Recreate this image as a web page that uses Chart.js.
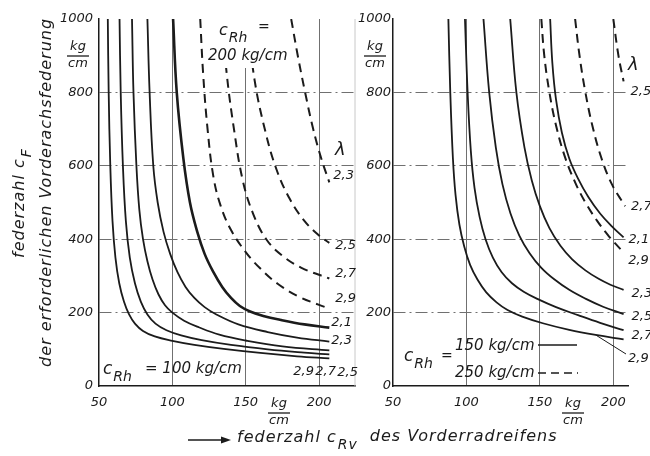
<!DOCTYPE html>
<html lang="de">
<head>
    <meta charset="UTF-8">
    <title>Federzahl Vorderachsfederung</title>
    <script src="https://cdn.jsdelivr.net/npm/chart.js"></script>
    <style>
        body { margin: 0; background: #fff; }
        #wrap { position: relative; width: 650px; height: 456px; }
        #wrap canvas { position: absolute; left: 0; top: 0; }
    </style>
</head>
<body>
    <div id="wrap">
        <canvas id="leftChart" width="650" height="456"></canvas>
        <canvas id="rightChart" width="650" height="456"></canvas>
    </div>
    <script>
        // axis ticks
        const xTicks = [50, 100, 150, 200];
        const yTicks = [0, 200, 400, 600, 800, 1000];

        // left panel, c_Rh = 100 kg/cm (solid) - points [c_Rv, c_F]
        const left100_29 = [[56, 1000], [56.6, 800], [57.7, 600], [59.2, 450], [61.2, 350], [63.8, 280], [67, 230], [70.5, 195], [74.5, 170], [80, 150], [88, 135], [100, 123], [115, 112], [135, 101], [160, 90], [185, 81], [207, 75]];
        const left100_27 = [[64, 1000], [64.8, 800], [66.3, 600], [68.3, 450], [71, 350], [74.5, 280], [78.5, 230], [83, 195], [88.5, 170], [96, 152], [106, 138], [120, 125], [140, 112], [165, 100], [190, 91], [207, 86]];
        const left100_25 = [[72.5, 1000], [73.5, 800], [75.5, 600], [77.5, 480], [80, 400], [83, 340], [86.5, 290], [90.5, 250], [95, 220], [100, 200], [108, 178], [118, 160], [132, 140], [150, 124], [175, 108], [207, 97]];
        const left100_23 = [[83, 1000], [84.5, 800], [87, 600], [90, 500], [94, 420], [98.5, 360], [103.5, 310], [109, 270], [115, 240], [122, 215], [130, 195], [145, 168], [165, 147], [185, 132], [207, 121]];
        const left100_21 = [[100.5, 1000], [103, 800], [107.5, 620], [112, 500], [117, 420], [122, 360], [128, 310], [134, 270], [140, 240], [146, 218], [153, 203], [162, 191], [174, 180], [190, 168], [207, 159]];

        // left panel, c_Rh = 200 kg/cm (dashed)
        const left200_29 = [[119, 1000], [121, 850], [124, 700], [128, 570], [133, 490], [140, 425], [150, 365], [160, 320], [172, 278], [186, 244], [200, 221], [207, 211]];
        const left200_27 = [[134, 1000], [137, 853], [142, 700], [148, 560], [155, 470], [164, 400], [175, 355], [188, 322], [207, 293]];
        const left200_25 = [[151, 1000], [156, 835], [163, 700], [171, 590], [180, 510], [190, 450], [200, 410], [207, 390]];
        const left200_23 = [[181, 1000], [185.5, 900], [190.5, 800], [196, 700], [201.5, 620], [207, 555]];

        // right panel, c_Rh = 150 kg/cm (solid)
        const right150_29 = [[87.7, 1000], [89, 800], [90.8, 620], [92.6, 520], [95.2, 440], [98.5, 380], [102.5, 330], [107.5, 290], [113.5, 255], [120.5, 228], [128, 207], [138, 189], [152, 171], [170, 153], [188, 139], [207, 127]];
        const right150_27 = [[99, 1000], [100.8, 800], [103, 640], [105.5, 540], [109, 460], [113, 400], [118, 350], [124, 310], [131, 280], [139, 257], [149, 236], [161, 215], [176, 193], [191, 172], [207, 152]];
        const right150_25 = [[111.6, 1000], [115.5, 800], [120, 650], [124.5, 550], [130, 470], [136, 410], [143, 362], [151, 322], [160, 290], [170, 262], [181, 238], [193, 216], [207, 196]];
        const right150_23 = [[129.8, 1000], [134, 800], [139.5, 650], [144.5, 560], [150, 490], [156.5, 430], [164, 382], [172, 345], [181, 315], [190, 292], [198, 276], [207, 262]];
        const right150_21 = [[157, 1000], [158.5, 880], [161, 780], [165, 690], [170, 620], [176, 565], [183, 515], [191, 470], [199, 435], [207, 405]];

        // right panel, c_Rh = 250 kg/cm (dashed)
        const right250_29 = [[151, 1000], [153, 900], [156.5, 800], [161, 710], [167, 625], [174, 555], [181, 500], [189, 450], [197, 408], [206, 368]];
        const right250_27 = [[174, 1000], [177, 900], [181, 800], [186, 705], [192, 620], [199, 550], [208, 490]];
        const right250_25 = [[200, 1000], [203.5, 900], [207, 830]];

        const ink = '#1b1b1b';
        const gridColor = '#707070';
        const none = 'rgba(0,0,0,0)';
        const fontFam = '"DejaVu Sans"';

        function curve(pts, dashed, width, lab) {
            return {
                data: pts.map(p => ({ x: p[0], y: p[1] })),
                showLine: true,
                borderColor: ink,
                borderWidth: width,
                borderDash: dashed ? [9, 6] : [],
                pointRadius: 0,
                tension: 0.4,
                fill: false,
                lab: lab
            };
        }

        function put(c, s, x, y, size, align) {
            c.font = 'italic ' + size + 'px ' + fontFam;
            c.textAlign = align || 'left';
            c.textBaseline = 'middle';
            c.fillStyle = ink;
            c.fillText(s, x, y);
            return c.measureText(s).width;
        }

        function putSub(c, base, sub, x, y, size) {
            const w = put(c, base, x, y, size);
            const w2 = put(c, sub, x + w + 1, y + size * 0.45, Math.round(size * 0.85));
            return w + 1 + w2;
        }

        function hline(c, x1, x2, y, dash) {
            c.save();
            c.strokeStyle = ink;
            c.lineWidth = 1.3;
            c.setLineDash(dash || []);
            c.beginPath();
            c.moveTo(x1, y);
            c.lineTo(x2, y);
            c.stroke();
            c.restore();
        }

        // kg over cm
        function unitFrac(c, x, y) {
            put(c, 'kg', x, y - 9, 13, 'center');
            hline(c, x - 11, x + 11, y);
            put(c, 'cm', x, y + 8, 13, 'center');
        }

        // lambda values at the curve ends
        const curveLabels = {
            id: 'curveLabels',
            afterDatasetsDraw(chart) {
                const c = chart.ctx;
                c.save();
                chart.data.datasets.forEach((ds, i) => {
                    if (!ds.lab) return;
                    const pts = chart.getDatasetMeta(i).data;
                    const last = pts[pts.length - 1];
                    put(c, ds.lab.t, last.x + ds.lab.dx, last.y + ds.lab.dy, 13);
                });
                c.restore();
            }
        };

        const leftText = {
            id: 'leftText',
            afterDatasetsDraw(chart) {
                const c = chart.ctx;
                const a = chart.chartArea;
                c.save();
                // faint right border of the left panel
                c.strokeStyle = '#c8c8c8';
                c.lineWidth = 1;
                c.beginPath();
                c.moveTo(a.right, a.top);
                c.lineTo(a.right, a.bottom);
                c.stroke();

                // c_Rh = 200 kg/cm label on a white patch
                c.fillStyle = '#fff';
                c.fillRect(206, 12, 84, 56);
                putSub(c, 'c', 'Rh', 219, 31, 16);
                put(c, '=', 258, 27, 14);
                put(c, '200 kg/cm', 208, 56, 15);

                // c_Rh = 100 kg/cm
                putSub(c, 'c', 'Rh', 103, 370, 17);
                put(c, '= 100 kg/cm', 145, 369, 15);

                put(c, 'λ', 335, 150, 18);

                unitFrac(c, 78, 56);
                unitFrac(c, 279, 413);

                // rotated y titles
                c.letterSpacing = '1px';
                c.save();
                c.translate(20, 258);
                c.rotate(-Math.PI / 2);
                putSub(c, 'federzahl c', 'F', 0, 0, 16);
                c.restore();
                c.save();
                c.translate(47, 367);
                c.rotate(-Math.PI / 2);
                put(c, 'der erforderlichen Vorderachsfederung', 0, 0, 16);
                c.restore();

                // x title with arrow
                c.save();
                c.strokeStyle = ink;
                c.lineWidth = 1.4;
                c.beginPath();
                c.moveTo(188, 440);
                c.lineTo(224, 440);
                c.stroke();
                c.fillStyle = ink;
                c.beginPath();
                c.moveTo(231, 440);
                c.lineTo(221, 436.5);
                c.lineTo(221, 443.5);
                c.closePath();
                c.fill();
                c.restore();
                const w = putSub(c, 'federzahl c', 'Rv', 237, 438, 16);
                put(c, 'des Vorderradreifens', 237 + w + 12, 437, 16);
                c.letterSpacing = '0px';
                c.restore();
            }
        };

        const rightText = {
            id: 'rightText',
            afterDatasetsDraw(chart) {
                const c = chart.ctx;
                c.save();
                put(c, 'λ', 628, 65, 18);
                unitFrac(c, 375, 56);
                unitFrac(c, 573, 413);

                // legend
                putSub(c, 'c', 'Rh', 404, 357, 17);
                put(c, '=', 441, 356, 14);
                put(c, '150 kg/cm', 455, 346, 15);
                hline(c, 538, 577, 345);
                put(c, '250 kg/cm', 455, 373, 15);
                hline(c, 538, 578, 373, [8, 5]);

                // leader to the 2,9 label
                const p = chart.getDatasetMeta(0).data[14];
                c.strokeStyle = ink;
                c.lineWidth = 1;
                c.beginPath();
                c.moveTo(p.x, p.y);
                c.lineTo(626, 354);
                c.stroke();
                put(c, '2,9', 628, 359, 13);
                c.restore();
            }
        };

        function scalesFor(xMax, yWidth, yPad) {
            return {
                x: {
                    type: 'linear',
                    min: 50,
                    max: xMax,
                    afterBuildTicks: s => { s.ticks = xTicks.map(v => ({ value: v })); },
                    afterFit: s => { s.height = 70; },
                    ticks: {
                        color: ink,
                        padding: 9,
                        maxRotation: 0,
                        callback: v => String(v),
                        font: { family: 'DejaVu Sans', size: 13, style: 'italic' }
                    },
                    grid: {
                        drawTicks: false,
                        lineWidth: 1,
                        color: ctx => (ctx.tick && ctx.tick.value > 50) ? gridColor : none
                    },
                    border: { color: ink, width: 1.5 }
                },
                y: {
                    type: 'linear',
                    min: 0,
                    max: 1000,
                    afterBuildTicks: s => { s.ticks = yTicks.map(v => ({ value: v })); },
                    afterFit: s => { s.width = yWidth; },
                    ticks: {
                        color: ink,
                        padding: yPad,
                        callback: v => String(v),
                        font: { family: 'DejaVu Sans', size: 13, style: 'italic' }
                    },
                    grid: {
                        drawTicks: false,
                        lineWidth: 1,
                        color: ctx => (ctx.tick && ctx.tick.value > 0 && ctx.tick.value < 1000) ? gridColor : none
                    },
                    border: { color: ink, width: 1.5, dash: [12, 4, 2, 4] }
                }
            };
        }

        const baseOptions = {
            responsive: false,
            animation: false,
            events: [],
            plugins: { legend: { display: false }, tooltip: { enabled: false } }
        };

        const leftChart = new Chart(document.getElementById('leftChart'), {
            type: 'scatter',
            data: {
                datasets: [
                    curve(left100_29, false, 1.8, { t: '2,9', dx: -36, dy: 13 }),
                    curve(left100_27, false, 1.8, { t: '2,7', dx: -14, dy: 17 }),
                    curve(left100_25, false, 1.8, { t: '2,5', dx: 8, dy: 22 }),
                    curve(left100_23, false, 1.8, { t: '2,3', dx: 2, dy: -1 }),
                    curve(left100_21, false, 2.6, { t: '2,1', dx: 2, dy: -5 }),
                    curve(left200_29, true, 2, { t: '2,9', dx: 6, dy: -10 }),
                    curve(left200_27, true, 2, { t: '2,7', dx: 6, dy: -5 }),
                    curve(left200_25, true, 2, { t: '2,5', dx: 6, dy: 3 }),
                    curve(left200_23, true, 2, { t: '2,3', dx: 4, dy: -7 })
                ]
            },
            options: Object.assign({}, baseOptions, {
                layout: { padding: { left: 0, top: 19, right: 295, bottom: 0 } },
                scales: scalesFor(224.5, 99, 6)
            }),
            plugins: [leftText, curveLabels]
        });

        const rightChart = new Chart(document.getElementById('rightChart'), {
            type: 'scatter',
            data: {
                datasets: [
                    curve(right150_29, false, 1.8, null),
                    curve(right150_27, false, 1.8, { t: '2,7', dx: 8, dy: 5 }),
                    curve(right150_25, false, 1.8, { t: '2,5', dx: 8, dy: 3 }),
                    curve(right150_23, false, 1.8, { t: '2,3', dx: 8, dy: 4 }),
                    curve(right150_21, false, 1.8, { t: '2,1', dx: 5, dy: 2 }),
                    curve(right250_29, true, 2, { t: '2,9', dx: 6, dy: 10 }),
                    curve(right250_27, true, 2, { t: '2,7', dx: 6, dy: 0 }),
                    curve(right250_25, true, 2, { t: '2,5', dx: 7, dy: 10 })
                ]
            },
            options: Object.assign({}, baseOptions, {
                layout: { padding: { left: 348, top: 19, right: 22, bottom: 0 } },
                scales: scalesFor(210, 45, 2)
            }),
            plugins: [rightText, curveLabels]
        });
    </script>
</body>
</html>
